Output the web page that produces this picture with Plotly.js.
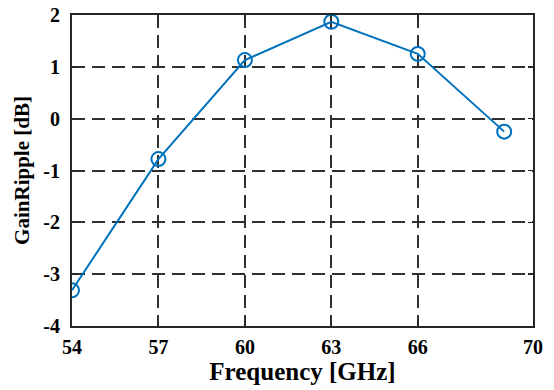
<!DOCTYPE html>
<html>
<head>
<meta charset="utf-8">
<script src="https://cdn.plot.ly/plotly-3.0.1.min.js"></script>
<style>
  html, body { margin: 0; padding: 0; background: #ffffff; }
  #chart { width: 554px; height: 390px; }
</style>
</head>
<body>
<div id="chart"></div>
<script>
// Measured gain ripple across the band
const frequencyGHz = [54, 57, 60, 63, 66, 69];
const gainRippleDb = [-3.31, -0.78, 1.13, 1.87, 1.25, -0.25];

const xTickValues = [54, 57, 60, 63, 66, 70];
const yTickValues = [-4, -3, -2, -1, 0, 1, 2];

const serif = 'Liberation Serif, Times New Roman, serif';
const axisColor = '#262626';

const trace = {
  x: frequencyGHz,
  y: gainRippleDb,
  type: 'scatter',
  mode: 'lines+markers',
  line: { color: '#0072BD', width: 2 },
  marker: {
    symbol: 'circle-open',
    size: 14,
    color: '#0072BD',
    line: { color: '#0072BD', width: 2 }
  },
  hoverinfo: 'skip'
};

const axisCommon = {
  showline: true,
  linecolor: axisColor,
  linewidth: 2,
  mirror: 'ticks',
  ticks: 'inside',
  ticklen: 5,
  tickwidth: 1.5,
  tickcolor: axisColor,
  showgrid: true,
  gridcolor: '#303030',
  gridwidth: 2,
  griddash: '13px,7px',
  zeroline: false,
  tickfont: { family: serif, size: 20, color: '#000000', weight: 'bold' }
};

const layout = {
  width: 554,
  height: 390,
  margin: { l: 72, r: 21, t: 15, b: 64 },
  paper_bgcolor: '#ffffff',
  plot_bgcolor: '#ffffff',
  showlegend: false,
  xaxis: Object.assign({}, axisCommon, {
    range: [54, 70],
    tickmode: 'array',
    tickvals: xTickValues,
    ticktext: xTickValues.map(String),
    ticklabelstandoff: 2,
    title: {
      text: '<b>Frequency [GHz]</b>',
      font: { family: serif, size: 25, color: '#000000' },
      standoff: 5
    }
  }),
  yaxis: Object.assign({}, axisCommon, {
    range: [-4, 2],
    tickmode: 'array',
    tickvals: yTickValues,
    ticktext: yTickValues.map(String),
    ticklabelstandoff: 6,
    title: {
      text: '<b>GainRipple [dB]</b>',
      font: { family: serif, size: 21, color: '#000000' },
      standoff: 8
    }
  })
};

Plotly.newPlot('chart', [trace], layout, { staticPlot: true, displayModeBar: false });
</script>
</body>
</html>
